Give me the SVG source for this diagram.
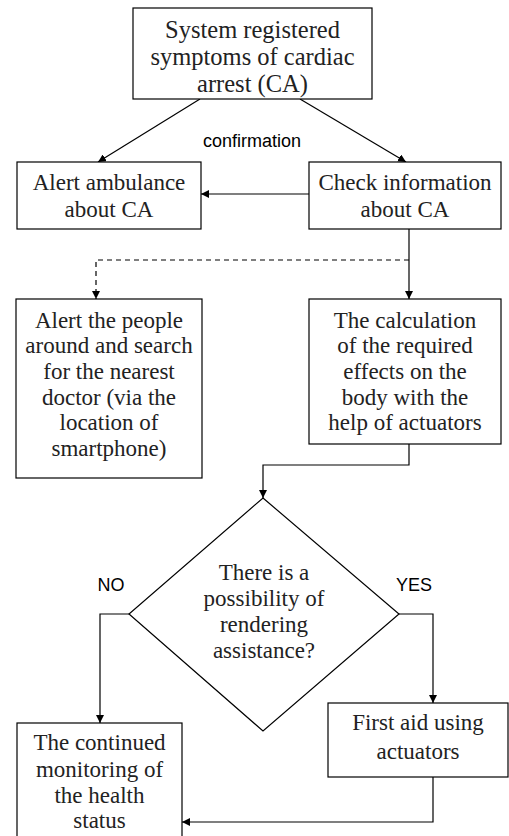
<svg xmlns="http://www.w3.org/2000/svg" width="509" height="836" viewBox="0 0 509 836">
<defs>
<marker id="ah" viewBox="0 0 10 10" refX="10" refY="5" markerWidth="8" markerHeight="8" markerUnits="userSpaceOnUse" orient="auto">
<path d="M0,0 L10,5 L0,10 z" fill="#000"/>
</marker>
<style>
.box{fill:#fff;stroke:#000;stroke-width:1.2}
.t{font-family:"Liberation Serif","Times New Roman",serif;font-size:23px;fill:#222;text-anchor:middle}
.big{font-size:24.5px}
.s{font-family:"Liberation Sans",Arial,sans-serif;font-size:18px;fill:#000;text-anchor:middle}
.c{fill:none;stroke:#000;stroke-width:1.2}
.d{stroke-dasharray:5,4}
</style>
</defs>
<rect width="509" height="836" fill="#fff"/>
<g id="connectors">
<line class="c" x1="200" y1="99" x2="98" y2="162" marker-end="url(#ah)"/>
<line class="c" x1="300" y1="99" x2="406" y2="162" marker-end="url(#ah)"/>
<line class="c" x1="309" y1="194" x2="201" y2="194" marker-end="url(#ah)"/>
<line class="c" x1="409" y1="229" x2="409" y2="299" marker-end="url(#ah)"/>
<polyline class="c d" points="409,260 96,260 96,299" marker-end="url(#ah)"/>
<polyline class="c" points="409,444 409,465 263,465 263,498" marker-end="url(#ah)"/>
<polyline class="c" points="129,614 100,614 100,723" marker-end="url(#ah)"/>
<polyline class="c" points="399,614 433,614 433,703" marker-end="url(#ah)"/>
<polyline class="c" points="433,777 433,822 182,822" marker-end="url(#ah)"/>
<text class="s" x="252" y="147">confirmation</text>
<text class="s" x="111" y="591">NO</text>
<text class="s" x="414" y="591">YES</text>
</g>
<g id="n1">
<rect class="box" x="133" y="8" width="239" height="91"/>
<text class="t big" x="252.5" y="38">System registered</text>
<text class="t big" x="252.5" y="65">symptoms of cardiac</text>
<text class="t big" x="252.5" y="92">arrest (CA)</text>
</g>
<g id="n2">
<rect class="box" x="17" y="162" width="184" height="67"/>
<text class="t" x="109" y="190">Alert ambulance</text>
<text class="t" x="109" y="217">about CA</text>
</g>
<g id="n3">
<rect class="box" x="309" y="162" width="192" height="67"/>
<text class="t" x="405" y="190">Check information</text>
<text class="t" x="405" y="217">about CA</text>
</g>
<g id="n4">
<rect class="box" x="16" y="299" width="186" height="179"/>
<text class="t" x="109" y="328">Alert the people</text>
<text class="t" x="109" y="353">around and search</text>
<text class="t" x="109" y="379">for the nearest</text>
<text class="t" x="109" y="405">doctor (via the</text>
<text class="t" x="109" y="430">location of</text>
<text class="t" x="109" y="456">smartphone)</text>
</g>
<g id="n5">
<rect class="box" x="309" y="299" width="192" height="145"/>
<text class="t" x="405" y="328">The calculation</text>
<text class="t" x="405" y="353">of the required</text>
<text class="t" x="405" y="379">effects on the</text>
<text class="t" x="405" y="405">body with the</text>
<text class="t" x="405" y="430">help of actuators</text>
</g>
<g id="n6">
<polygon class="box" points="263,498 399,614 263,731 129,614"/>
<text class="t" x="264" y="580">There is a</text>
<text class="t" x="264" y="606">possibility of</text>
<text class="t" x="264" y="632">rendering</text>
<text class="t" x="264" y="658">assistance?</text>
</g>
<g id="n7">
<rect class="box" x="328" y="703" width="180" height="74"/>
<text class="t" x="418" y="730">First aid using</text>
<text class="t" x="418" y="759">actuators</text>
</g>
<g id="n8">
<rect class="box" x="17" y="723" width="165" height="120"/>
<text class="t" x="99.5" y="750">The continued</text>
<text class="t" x="99.5" y="777">monitoring of</text>
<text class="t" x="99.5" y="803">the health</text>
<text class="t" x="99.5" y="828">status</text>
</g>
</svg>
